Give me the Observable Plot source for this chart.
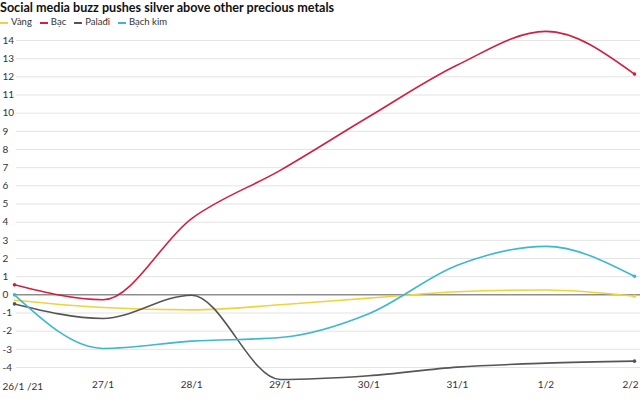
<!DOCTYPE html>
<html><head><meta charset="utf-8">
<script src="https://cdn.jsdelivr.net/npm/d3@7"></script>
<script src="https://cdn.jsdelivr.net/npm/@observablehq/plot@0.6"></script>
<style>
body{margin:0;background:#fff;font-family:Lato,"Open Sans",sans-serif;}
#wrap{position:relative;width:640px;height:399px;overflow:hidden;}
#title{position:absolute;left:0;top:0px;font-weight:bold;font-size:12.6px;line-height:15px;color:#111;white-space:nowrap;}
#legend{position:absolute;left:0;top:16px;font-size:9.5px;color:#333;white-space:nowrap;}
#legend span.item{margin-right:8px;}
#legend span.sw{display:inline-block;width:8px;height:2px;vertical-align:middle;margin-right:3px;}
#chart{position:absolute;left:0;top:0;}
</style></head>
<body><div id="wrap"><div id="chart"></div><div id="title"></div><div id="legend"></div></div>
<script>
const dates = ["26/1 /21","27/1","28/1","29/1","30/1","31/1","1/2","2/2"];
const seriesNames = ["Vàng","Bạc","Palađi","Bạch kim"];
const colors = ["#f0d23a","#d41f3f","#555555","#3db7d4"];
const vang   = [-0.3,-0.7,-0.83,-0.55,-0.18,0.17,0.27,-0.07];
const bac    = [0.55,-0.27,4.2,6.85,9.8,12.65,14.5,12.15];
const paladi = [-0.5,-1.3,-0.02,-4.66,-4.45,-3.98,-3.76,-3.65];
const bachkim= [0.0,-2.95,-2.55,-2.35,-1.04,1.63,2.67,1.02];
const yTicks = [14,13,12,11,10,9,8,7,6,5,4,3,2,1,0,-1,-2,-3,-4];
const title = "Social media buzz pushes silver above other precious metals";

const allSeries = [vang,bac,paladi,bachkim];
const rows = [];
allSeries.forEach((arr,si)=>arr.forEach((v,i)=>rows.push({i, v, s: seriesNames[si]})));
const ends = rows.filter(d => d.i===0 || d.i===dates.length-1).filter(d => !(d.s==="Vàng" && d.i===0));
const xIdx = dates.map((d,i)=>({i,label:d}));

const plot = Plot.plot({
  width: 640, height: 399,
  marginLeft: 14, marginRight: 6, marginTop: 40, marginBottom: 32,
  x: {type:"linear", domain:[0,7], axis:null},
  y: {domain:[-4,14], axis:null},
  color: {domain: seriesNames, range: colors},
  style: {fontFamily: "Lato, 'Open Sans', sans-serif", fontSize: "10px", color:"#333", overflow:"visible"},
  marks: [
    Plot.ruleY(yTicks.filter(t=>t!==0), {stroke:"#e3e3e3", strokeWidth:1, insetRight:-6, insetLeft:2}),
    Plot.text(yTicks, {y: d=>d, text: d=>String(d), frameAnchor:"left", dx:-12, textAnchor:"start", fill:"#333", fontSize:10}),
    Plot.ruleY([0], {stroke:"#555", strokeWidth:1, insetRight:-6}),
    Plot.line(rows, {x:"i", y:"v", z:"s", stroke:"s", strokeWidth:1.6, curve:"monotone-x"}),
    Plot.dot(ends, {x:"i", y:"v", fill:"s", r:1.8}),
    Plot.text(xIdx.slice(0,1), {x:"i", text:"label", frameAnchor:"bottom", dy:22, fill:"#333", fontSize:10, textAnchor:"start", dx:-12}),
    Plot.text(xIdx.slice(1,-1), {x:"i", text:"label", frameAnchor:"bottom", dy:20, fill:"#333", fontSize:10}),
    Plot.text(xIdx.slice(-1), {x:"i", text:"label", frameAnchor:"bottom", dy:20, fill:"#333", fontSize:10, textAnchor:"end", dx:4})
  ]
});
document.getElementById("chart").appendChild(plot);
document.getElementById("title").textContent = title;
const lg = document.getElementById("legend");
seriesNames.forEach((n,k)=>{
  const it = document.createElement("span"); it.className="item";
  const sw = document.createElement("span"); sw.className="sw"; sw.style.background=colors[k];
  it.appendChild(sw); it.appendChild(document.createTextNode(n)); lg.appendChild(it);
});
</script></body></html>
